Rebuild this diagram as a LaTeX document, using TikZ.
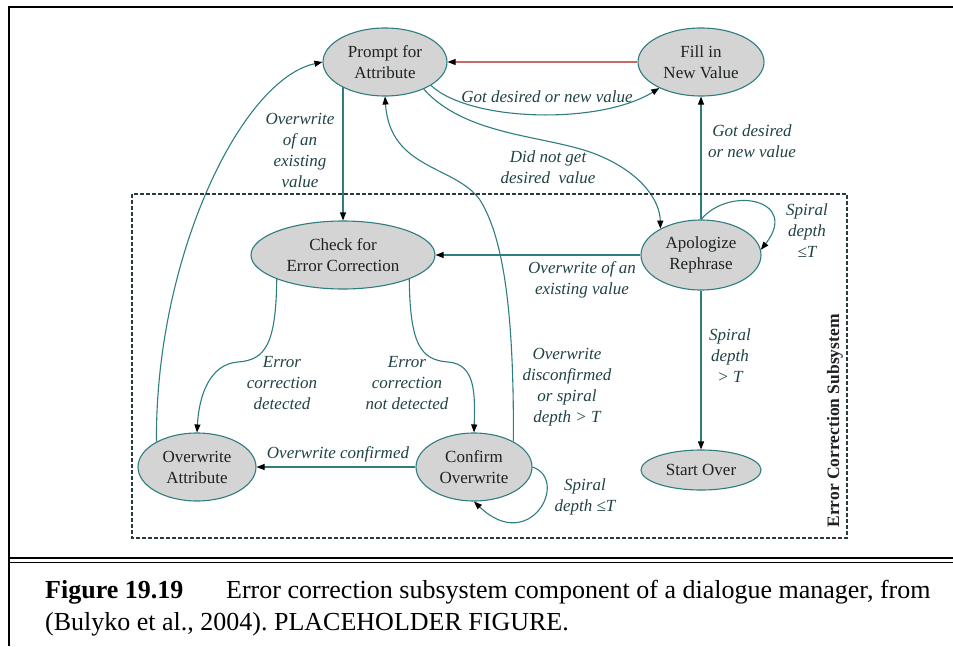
\documentclass[tikz,border=0pt]{standalone}
\usepackage{fontspec}
\setmainfont{Liberation Serif}
\usetikzlibrary{arrows.meta,shapes.geometric,backgrounds}
\definecolor{lc}{RGB}{46,125,128}
\definecolor{rl}{RGB}{200,105,105}
\definecolor{nf}{RGB}{212,212,212}
\definecolor{nt}{RGB}{30,34,34}
\definecolor{lt}{RGB}{32,66,68}
\definecolor{bc}{RGB}{40,60,62}
\frenchspacing
\begin{document}
\begin{tikzpicture}[x=1pt,y=-1pt,
  st/.style={ellipse,draw=lc,line width=1.1pt,fill=nf,inner sep=0pt,align=center,
    font=\fontsize{17}{21}\selectfont,text=nt},
  lbl/.style={align=center,inner sep=0pt,font=\fontsize{17}{21}\selectfont\itshape,text=lt},
  con/.style={draw=lc,line width=1.1pt,-{Triangle[length=8pt,width=6pt,color=black]}},
  captext/.style={anchor=base west,inner sep=0pt,font=\fontsize{26}{32}\selectfont,text=black}]
\useasboundingbox (0,0) rectangle (953,646);
% frame
\draw[line width=2.5pt] (9,646) -- (9,7) -- (953,7);
\draw[line width=1.5pt] (9,558) -- (953,558);
\draw[line width=1.5pt] (9,562.5) -- (953,562.5);
% subsystem box
\draw[draw=bc,line width=1.1pt,dash pattern=on 4pt off 2pt] (132,194) rectangle (847,538);
\node[rotate=90,inner sep=0pt,font=\fontsize{17.5}{20}\selectfont\bfseries,text=nt] (sub) at (835,421) {Error Correction Subsystem};
% states
\node[st,minimum width=124pt,minimum height=68pt] (prompt) at (385,62) {Prompt for\\Attribute};
\node[st,minimum width=126pt,minimum height=68pt] (fill) at (701,62) {Fill in\\New Value};
\node[st,minimum width=184pt,minimum height=68pt] (check) at (343,255) {Check for\\Error Correction};
\node[st,minimum width=120pt,minimum height=70pt] (apol) at (701,255) {Apologize\\Rephrase};
\node[st,minimum width=118pt,minimum height=68pt] (oa) at (197,467) {Overwrite\\Attribute};
\node[st,minimum width=116pt,minimum height=68pt] (confirm) at (474,467) {Confirm\\Overwrite};
\node[st,minimum width=120pt,minimum height=40pt] (start) at (701,470) {Start Over};
% connectors
\begin{pgfonlayer}{background}
\draw[con,draw=rl] (fill.west) -- (prompt.east);
\draw[con] (prompt.333) .. controls (470,122) and (600,125) .. (fill.212);
\draw[con] (prompt.325) .. controls (465,135) and (540,135) .. (590,152) .. controls (640,170) and (660,200) .. (apol.147);
\draw[con] (check.north |- prompt.center) -- (check.north);
\draw[con] (apol.north) -- (fill.south);
\draw[con] (apol.north) .. controls (730,185) and (800,200) .. (apol.5);
\draw[con] (apol.west) -- (check.east);
\draw[con] (apol.south) -- (start.north);
\draw[con] (check.200) .. controls (276,345) and (265,360) .. (238,362) .. controls (210,364) and (199,395) .. (oa.north);
\draw[con] (check.340) .. controls (410,345) and (421,360) .. (448,362) .. controls (476,364) and (475,395) .. (confirm.north);
\draw[con] (confirm.west) -- (oa.east);
\draw[con] (confirm.east) .. controls (570,480) and (530,555) .. (confirm.south);
\draw[con] (confirm.33) .. controls (514,320) and (505,240) .. (480,200) .. controls (455,165) and (390,170) .. (prompt.south);
\draw[con] (oa.148) .. controls (155,260) and (240,80) .. (prompt.west);
\end{pgfonlayer}
% labels
\node[lbl] (l1) at (300,150) {Overwrite\\of an\\existing\\value};
\node[lbl] (l2) at (547,97) {Got desired or new value};
\node[lbl] (l3) at (548,167) {Did not get\\desired\ \ value};
\node[lbl] (l4) at (752,141) {Got desired\\or new value};
\node[lbl] (l5) at (807,231) {Spiral\\depth\\≤T};
\node[lbl] (l6) at (582,280) {Overwrite of an\\existing value};
\node[lbl] (l7) at (730,356) {Spiral\\depth\\> T};
\node[lbl] (l8) at (282,383) {Error\\correction\\detected};
\node[lbl] (l9) at (407,383) {Error\\correction\\not detected};
\node[lbl] (l10) at (338,454) {Overwrite confirmed};
\node[lbl] (l11) at (567,387) {Overwrite\\disconfirmed\\or spiral\\depth > T};
\node[lbl] (l12) at (585,497) {Spiral\\depth ≤T};
% caption
\node[captext,font=\fontsize{26}{32}\selectfont\bfseries] (figno) at (45,598) {Figure 19.19};
\node[captext] (cap1) at (226,598) {Error correction subsystem component of a dialogue manager, from};
\node[captext] (cap2) at (45,630) {(Bulyko et al., 2004). PLACEHOLDER FIGURE.};
\end{tikzpicture}
\end{document}
